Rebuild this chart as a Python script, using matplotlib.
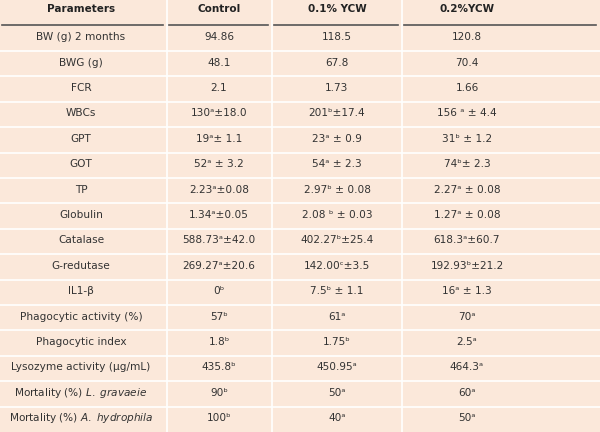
import matplotlib
matplotlib.use("Agg")
import matplotlib.pyplot as plt

headers = ["Parameters", "Control", "0.1% YCW", "0.2%YCW"]
params = ["BW (g) 2 months", "BWG (g)", "FCR", "WBCs", "GPT", "GOT", "TP", "Globulin",
          "Catalase", "G-redutase", "IL1-β", "Phagocytic activity (%)", "Phagocytic index",
          "Lysozyme activity (µg/mL)", r"Mortality (%) $\it{L.}$ $\it{gravaeie}$",
          r"Mortality (%) $\it{A.}$ $\it{hydrophila}$"]
control = ["94.86", "48.1", "2.1", "130ᵃ±18.0", "19ᵃ± 1.1", "52ᵃ ± 3.2", "2.23ᵃ±0.08",
           "1.34ᵃ±0.05", "588.73ᵃ±42.0", "269.27ᵃ±20.6", "0ᵇ", "57ᵇ", "1.8ᵇ", "435.8ᵇ",
           "90ᵇ", "100ᵇ"]
ycw01 = ["118.5", "67.8", "1.73", "201ᵇ±17.4", "23ᵃ ± 0.9", "54ᵃ ± 2.3", "2.97ᵇ ± 0.08",
         "2.08 ᵇ ± 0.03", "402.27ᵇ±25.4", "142.00ᶜ±3.5", "7.5ᵇ ± 1.1", "61ᵃ", "1.75ᵇ",
         "450.95ᵃ", "50ᵃ", "40ᵃ"]
ycw02 = ["120.8", "70.4", "1.66", "156 ᵃ ± 4.4", "31ᵇ ± 1.2", "74ᵇ± 2.3", "2.27ᵃ ± 0.08",
         "1.27ᵃ ± 0.08", "618.3ᵃ±60.7", "192.93ᵇ±21.2", "16ᵃ ± 1.3", "70ᵃ", "2.5ᵃ",
         "464.3ᵃ", "60ᵃ", "50ᵃ"]

W, H = 600, 432
fig = plt.figure(figsize=(6, 4.32), dpi=100)
fig.patch.set_facecolor("#fbe8da")
ax = fig.add_axes([0, 0, 1, 1])
ax.set_xlim(0, W)
ax.set_ylim(H, 0)
ax.axis("off")

col_edges = [0, 167, 272, 402, 600]
col_centers = [81, 219, 337, 467]
header_bottom = 25.5
row_h = (H - header_bottom) / len(params)
tc = "#333333"

for j, h in enumerate(headers):
    ax.text(col_centers[j], 8.5, h, ha="center", va="center", fontsize=7.5,
            fontweight="bold", color="#222222", family="DejaVu Sans")
    ax.plot([col_edges[j] + 2, col_edges[j + 1] - 4], [header_bottom - 0.5] * 2,
            color="#555555", lw=1.2)

for x in col_edges[1:-1]:
    ax.plot([x, x], [0, H], color="white", lw=1.2)

for i in range(len(params)):
    y0 = header_bottom + i * row_h
    if i > 0:
        ax.plot([0, W], [y0, y0], color="white", lw=1.2)
    yc = y0 + row_h / 2 - 1
    for j, v in enumerate([params[i], control[i], ycw01[i], ycw02[i]]):
        ax.text(col_centers[j], yc, v, ha="center", va="center", fontsize=7.6,
                color=tc, family="DejaVu Sans")

fig.savefig("out.png", dpi=100, facecolor=fig.get_facecolor())
